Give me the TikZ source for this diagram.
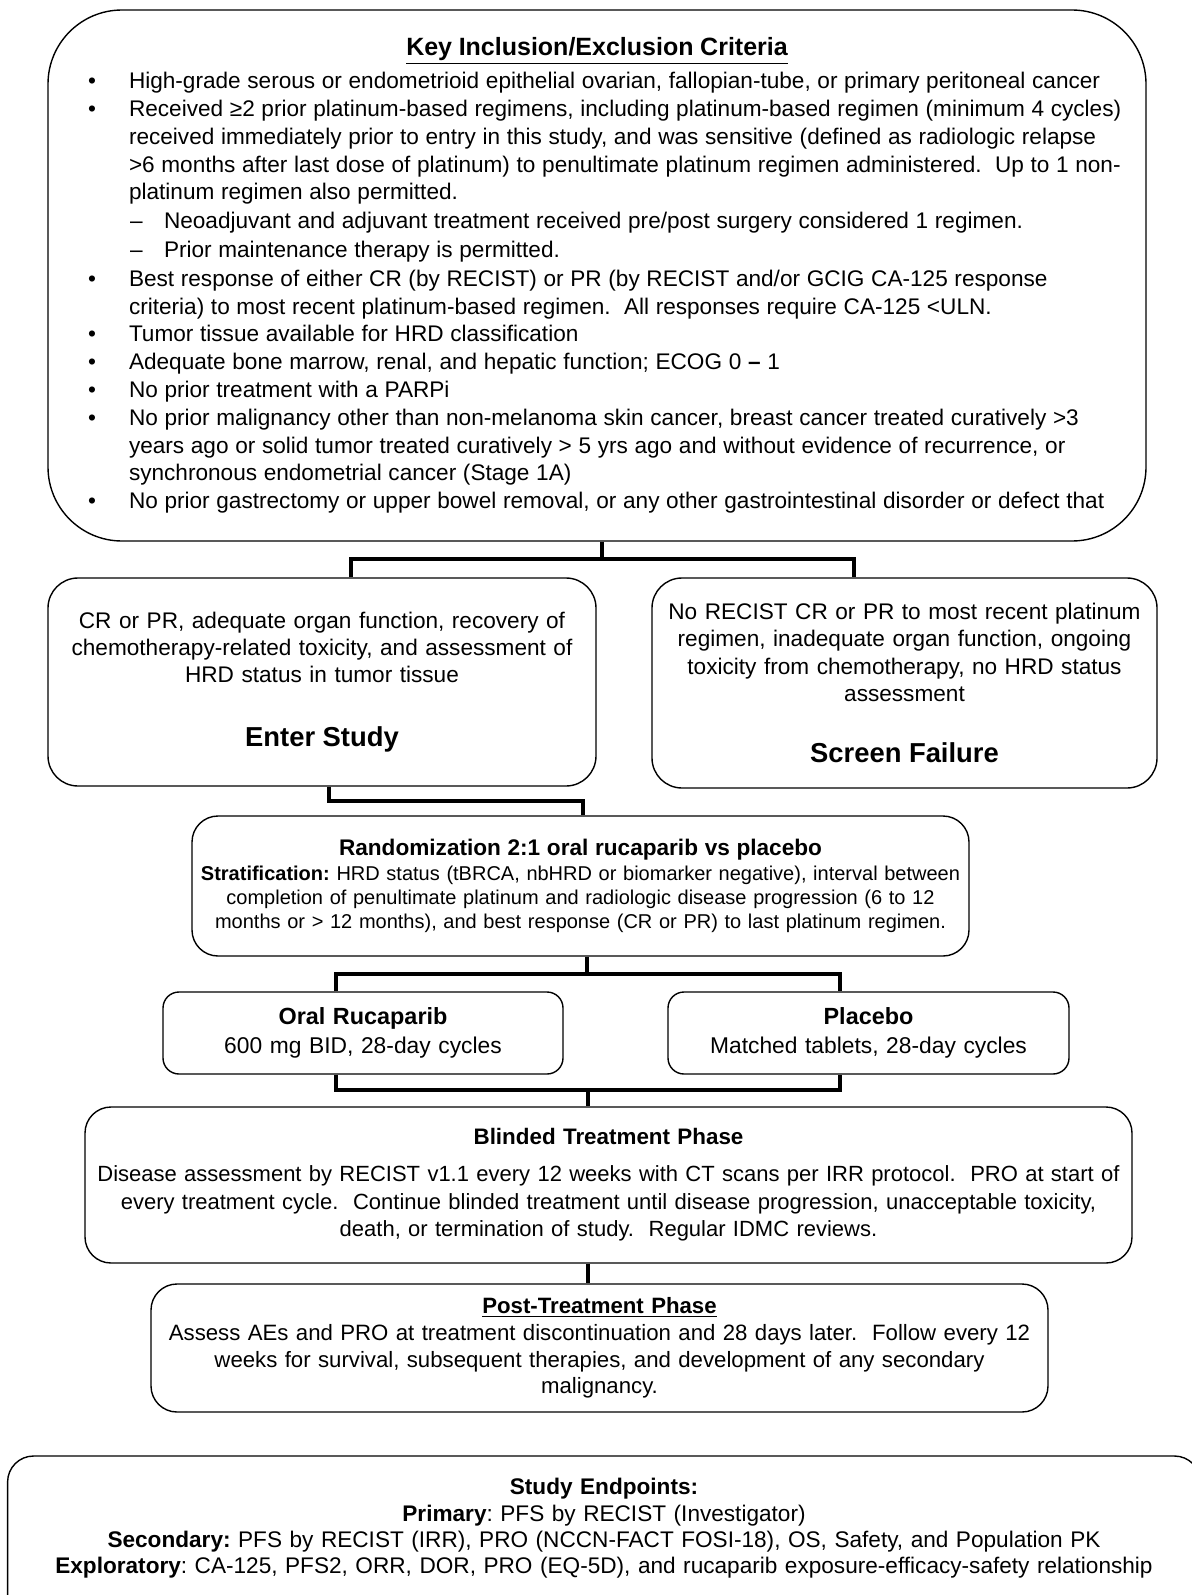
\documentclass[tikz,border=0pt]{standalone}
\usepackage{fontspec}
\setmainfont{Liberation Sans}
\usepackage{enumitem}
\usetikzlibrary{calc}
\frenchspacing

\tikzset{
  flowbox/.style={draw, line width=0.7pt, rounded corners=#1, inner sep=0pt},
  flowbox/.default=14pt,
  midbox/.style={flowbox=#1, align=center, font=\fontsize{11.3}{13.6}\selectfont},
  midbox/.default=14pt,
  link/.style={line width=1.8pt},
}

\begin{document}
\begin{tikzpicture}[x=0.5pt, y=-0.5pt]
  \useasboundingbox (0,0) rectangle (1191,1595);

  % criteria
  \node[flowbox=37pt, text width=549pt, minimum height=265.5pt] (crit) at (597,275.5) {%
    {\centering\fontsize{12.5}{15}\selectfont\bfseries\underline{Key Inclusion/Exclusion Criteria}\par}
    \vspace{2.6pt}
    \fontsize{11.3}{13.9}\selectfont\raggedright
    \begin{itemize}[leftmargin=40.5pt, labelsep=16.5pt, label=\textbullet, topsep=0pt, partopsep=0pt, itemsep=0pt, parsep=0pt]
      \item High-grade serous or endometrioid epithelial ovarian, fallopian-tube, or primary peritoneal cancer
      \item Received ≥2 prior platinum-based regimens, including platinum-based regimen (minimum 4 cycles)\newline
        received immediately prior to entry in this study, and was sensitive (defined as radiologic relapse\newline
        >6 months after last dose of platinum) to penultimate platinum regimen administered.~ Up to 1 non-\newline
        platinum regimen also permitted.
      \begin{itemize}[leftmargin=17.5pt, labelsep=10.7pt, label=\textendash, topsep=0.5pt, itemsep=0.5pt, parsep=0pt]
        \item Neoadjuvant and adjuvant treatment received pre/post surgery considered 1 regimen.
        \item Prior maintenance therapy is permitted.
      \end{itemize}
      \item Best response of either CR (by RECIST) or PR (by RECIST and/or GCIG CA-125 response\newline
        criteria) to most recent platinum-based regimen.~ All responses require CA-125 <ULN.
      \item Tumor tissue available for HRD classification
      \item Adequate bone marrow, renal, and hepatic function; ECOG 0 {\bfseries\textendash} 1
      \item No prior treatment with a PARPi
      \item No prior malignancy other than non-melanoma skin cancer, breast cancer treated curatively >3\newline
        years ago or solid tumor treated curatively > 5 yrs ago and without evidence of recurrence, or\newline
        synchronous endometrial cancer (Stage 1A)
      \item No prior gastrectomy or upper bowel removal, or any other gastrointestinal disorder or defect that
    \end{itemize}};

  % screening outcome
  \node[midbox=15pt, text width=274pt, minimum height=104pt] (enter) at (322,682) {%
    CR or PR, adequate organ function, recovery of\\
    chemotherapy-related toxicity, and assessment of\\
    HRD status in tumor tissue\\[18.5pt]
    {\fontsize{13.7}{16}\selectfont\bfseries Enter Study}};
  \node[midbox=15pt, text width=252.5pt, minimum height=105pt] (screen) at (904.5,683) {%
    No RECIST CR or PR to most recent platinum\\
    regimen, inadequate organ function, ongoing\\
    toxicity from chemotherapy, no HRD status\\
    assessment\\[17pt]
    {\fontsize{13.7}{16}\selectfont\bfseries Screen Failure}};

  \node[midbox=13pt, text width=388.5pt, minimum height=70pt, font=\fontsize{10}{12}\selectfont] (rand) at (580.5,886) {%
    {\fontsize{11.3}{13}\selectfont\bfseries Randomization 2:1 oral rucaparib vs placebo}\\[0.7pt]
    \textbf{Stratification:} HRD status (tBRCA, nbHRD or biomarker negative), interval between\\
    completion of penultimate platinum and radiologic disease progression (6 to 12\\
    months or > 12 months), and best response (CR or PR) to last platinum regimen.};

  % study arms
  \node[midbox=8pt, text width=200pt, minimum height=41pt, font=\fontsize{11.4}{14.2}\selectfont] (oral) at (363,1033) {%
    {\fontsize{11.7}{14}\selectfont\bfseries Oral Rucaparib}\\
    600 mg BID, 28-day cycles};
  \node[midbox=8pt, text width=200.5pt, minimum height=41pt, font=\fontsize{11.4}{14.2}\selectfont] (placebo) at (868.5,1033) {%
    {\fontsize{11.7}{14}\selectfont\bfseries Placebo}\\
    Matched tablets, 28-day cycles};

  \node[midbox=13pt, text width=523.5pt, minimum height=78pt, font=\fontsize{11}{13.7}\selectfont] (blind) at (608.5,1185) {%
    {\fontsize{11.2}{13.7}\selectfont\bfseries Blinded Treatment Phase}\\[4.8pt]
    Disease assessment by RECIST v1.1 every 12 weeks with CT scans per IRR protocol.~ PRO at start of\\
    every treatment cycle.~ Continue blinded treatment until disease progression, unacceptable toxicity,\\
    death, or termination of study.~ Regular IDMC reviews.};

  \node[midbox=13pt, text width=448.5pt, minimum height=64pt, font=\fontsize{11.1}{13.3}\selectfont] (post) at (599.5,1348) {%
    \underline{\textbf{Post-Treatment Phase}}\\
    Assess AEs and PRO at treatment discontinuation and 28 days later.~ Follow every 12\\
    weeks for survival, subsequent therapies, and development of any secondary\\
    malignancy.};

  \node[align=center, text width=596pt, anchor=north, inner xsep=0pt, inner ysep=11pt,
        font=\fontsize{11.3}{13.2}\selectfont] (endp) at (604,1456) {%
    \textbf{Study Endpoints:}\\
    \textbf{Primary}: PFS by RECIST (Investigator)\\
    \textbf{Secondary:} PFS by RECIST (IRR), PRO (NCCN-FACT FOSI-18), OS, Safety, and Population PK\\
    \textbf{Exploratory}: CA-125, PFS2, ORR, DOR, PRO (EQ-5D), and rucaparib exposure-efficacy-safety relationship};
  \draw[flowbox=13pt] (endp.north west) rectangle ($(endp.south east)+(0,80)$);

  % connectors
  \coordinate (b1c) at (602,559);
  \coordinate (b1l) at (351,559);
  \coordinate (b1r) at (854,559);
  \draw[link] (crit.south -| b1c) -- (b1c);
  \draw[link] (enter.north -| b1l) |- (b1r) -- (screen.north -| b1r);

  \coordinate (b2l) at (329,801);
  \coordinate (b2r) at (583,801);
  \draw[link] (enter.south -| b2l) |- (b2r) -- (rand.north -| b2r);

  \coordinate (b3c) at (587,974);
  \coordinate (b3l) at (336,974);
  \coordinate (b3r) at (840,974);
  \draw[link] (rand.south -| b3c) -- (b3c);
  \draw[link] (oral.north -| b3l) |- (b3r) -- (placebo.north -| b3r);

  \coordinate (b4c) at (588,1090);
  \coordinate (b4l) at (336,1090);
  \coordinate (b4r) at (840,1090);
  \draw[link] (oral.south -| b4l) |- (b4r) -- (placebo.south -| b4r);
  \draw[link] (b4c) -- (blind.north -| b4c);
  \draw[link] (blind.south -| b4c) -- (post.north -| b4c);
\end{tikzpicture}
\end{document}
